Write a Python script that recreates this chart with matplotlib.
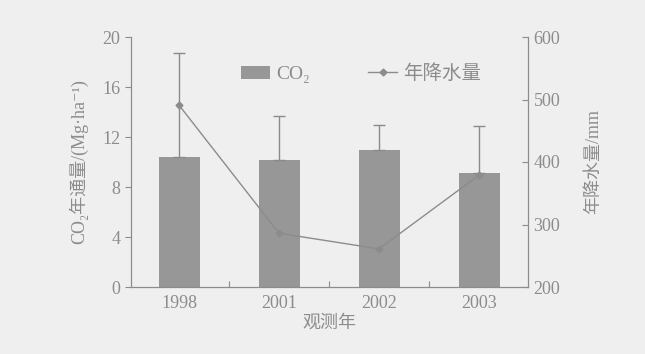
import matplotlib
matplotlib.use('Agg')
import matplotlib.pyplot as plt
from matplotlib.lines import Line2D
from matplotlib.patches import Patch

plt.rcParams['font.family'] = ['Liberation Serif', 'Noto Sans CJK SC', 'DejaVu Sans']

# CO2 flux by year, with error bars, and yearly rainfall
years = ['1998', '2001', '2002', '2003']
co2_flux = [10.4, 10.2, 11.0, 9.1]
co2_err = [8.3, 3.5, 2.0, 3.8]
rainfall = [491, 286, 261, 379]

grey = '#8c8c8c'
bar_grey = '#979797'
bg = '#efefef'

fig = plt.figure(figsize=(6.45, 3.54), dpi=100, facecolor=bg)
ax = fig.add_axes([131/645, 1-287/354, (528-131)/645, 250/354])
ax.set_facecolor(bg)

x = list(range(len(years)))
ax.bar(x, co2_flux, width=0.41, color=bar_grey, zorder=2)
# only the upper half of each error bar shows above the bar
ax.errorbar(x, co2_flux, yerr=[[0]*len(x), co2_err], fmt='none', ecolor='#8a8a8a',
            elinewidth=1.0, capsize=4, capthick=1.0, zorder=3)
ax.set_xlim(-0.48, 3.49)
ax.set_ylim(0, 20)
ax.set_yticks([0, 4, 8, 12, 16, 20])
ax.set_xticks([0.5, 1.5, 2.5])
ax.set_xticklabels([])
ax.set_xticks(x, minor=True)
ax.set_xticklabels(years, minor=True)
ax.tick_params(axis='x', which='major', direction='in', length=4, color=grey)
ax.tick_params(axis='x', which='minor', length=0, pad=6, labelsize=13, labelcolor=grey)
ax.tick_params(axis='y', direction='out', length=4, color=grey, labelsize=13, labelcolor=grey)
for s in ['left', 'bottom', 'right']:
    ax.spines[s].set_color(grey)
ax.spines['top'].set_visible(False)
ax.set_xlabel('观测年', fontsize=13, color=grey, labelpad=2)
ax.set_ylabel('CO₂年通量/(Mg·ha⁻¹)', fontsize=13, color=grey, labelpad=10)

ax2 = ax.twinx()
ax2.plot(x, rainfall, color=grey, lw=1.0, marker='D', ms=3.5, zorder=4)
ax2.set_ylim(200, 600)
ax2.set_yticks([200, 300, 400, 500, 600])
ax2.tick_params(axis='y', direction='in', length=4, color=grey, labelsize=13,
                labelcolor=grey, pad=4)
for s in ['left', 'bottom', 'right']:
    ax2.spines[s].set_color(grey)
ax2.spines['top'].set_visible(False)
ax2.set_ylabel('年降水量/mm', fontsize=13, color=grey, labelpad=18)

handles = [Patch(facecolor=bar_grey, edgecolor='none'),
           Line2D([], [], color=grey, marker='D', ms=3.5, lw=1.0)]
ax.legend(handles, ['CO₂', '年降水量'], loc='upper center', ncol=2,
          frameon=False, prop={'size': 14}, labelcolor=grey,
          bbox_to_anchor=(0.58, 0.96), columnspacing=3.0, handlelength=1.5,
          handletextpad=0.3)

fig.savefig('out.png', dpi=100, facecolor=bg)
